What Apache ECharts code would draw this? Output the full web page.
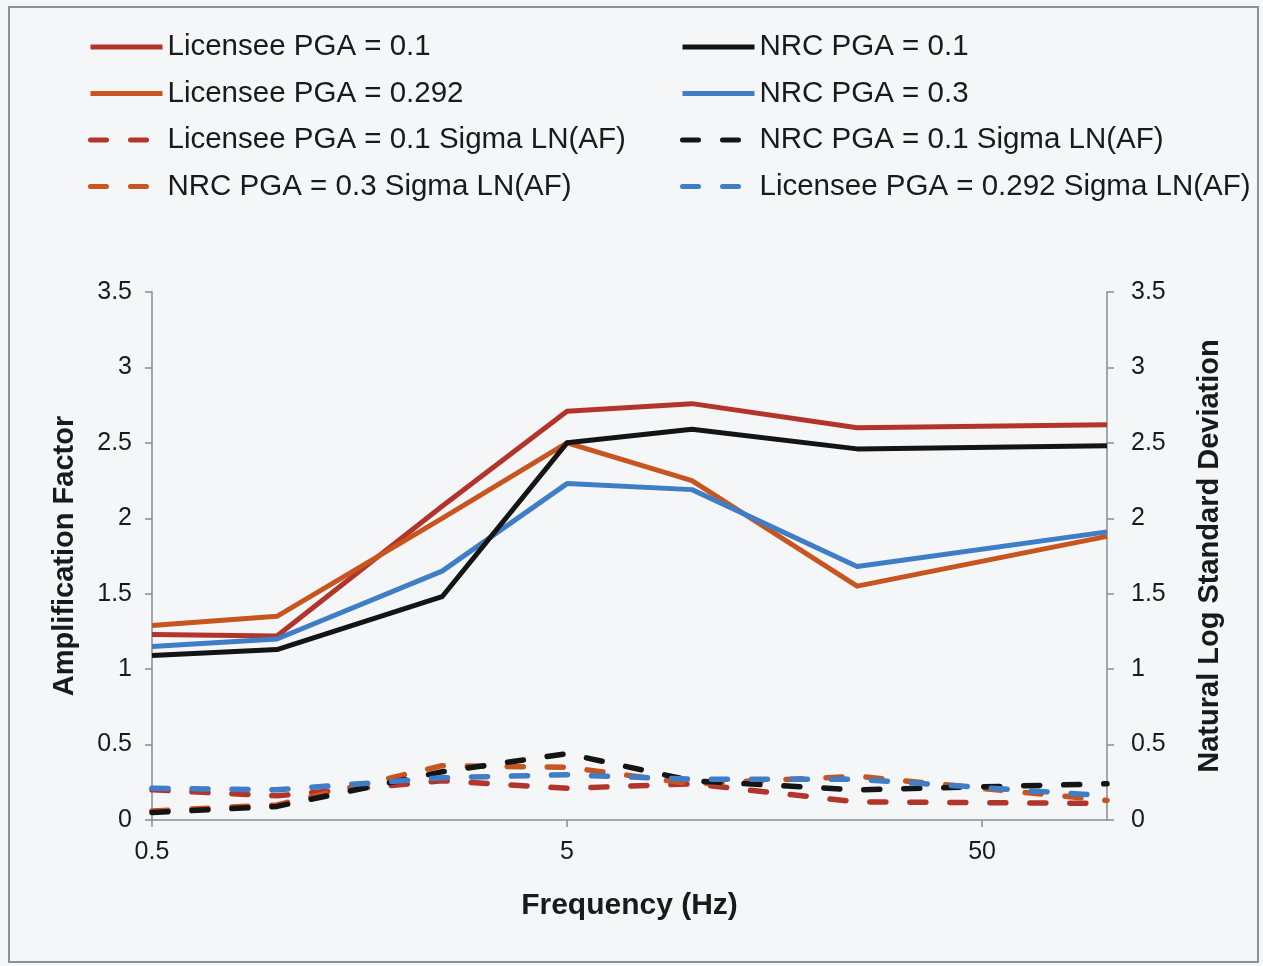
<!DOCTYPE html>
<html>
<head>
<meta charset="utf-8">
<script src="https://cdn.jsdelivr.net/npm/echarts@6/dist/echarts.min.js"></script>
<style>
  html, body { margin: 0; padding: 0; background: #f4f6f7; }
  #chart { width: 1263px; height: 966px; }
</style>
</head>
<body>
<div id="chart"></div>
<script>
// frequencies (Hz) shared by every series
var freq_hz = [0.5, 1, 2.5, 5, 10, 25, 100];

// amplification factor (left axis)
var licensee_pga_01 = [1.23, 1.22, 2.08, 2.71, 2.76, 2.60, 2.62];
var licensee_pga_0292 = [1.29, 1.35, 2.00, 2.50, 2.25, 1.55, 1.88];
var nrc_pga_01 = [1.09, 1.13, 1.48, 2.50, 2.59, 2.46, 2.48];
var nrc_pga_03 = [1.15, 1.20, 1.65, 2.23, 2.19, 1.68, 1.91];

// sigma ln(AF) (right axis)
var licensee_01_sigma = [0.20, 0.16, 0.26, 0.21, 0.24, 0.12, 0.11];
var nrc_03_sigma = [0.06, 0.10, 0.36, 0.35, 0.24, 0.29, 0.13];
var nrc_01_sigma = [0.05, 0.09, 0.32, 0.44, 0.26, 0.20, 0.24];
var licensee_0292_sigma = [0.21, 0.20, 0.28, 0.30, 0.27, 0.27, 0.16];

var y_ticks = [0, 0.5, 1, 1.5, 2, 2.5, 3, 3.5];
var x_base = 0.5;   // first labelled frequency, ticks every decade from here
var x_max_hz = 100;

var names = [
    'Licensee PGA = 0.1', 'Licensee PGA = 0.292',
    'Licensee PGA = 0.1 Sigma LN(AF)', 'NRC PGA = 0.3 Sigma LN(AF)',
    'NRC PGA = 0.1', 'NRC PGA = 0.3',
    'NRC PGA = 0.1 Sigma LN(AF)', 'Licensee PGA = 0.292 Sigma LN(AF)'
];

var c_red = '#b3342a', c_orange = '#c8541f', c_black = '#141414', c_blue = '#3f7dc6';
var font = '"Liberation Sans", Arial, Helvetica, sans-serif';

// decades above 0.5 Hz, so the value axis behaves like a log axis
function to_x(f) {
    return Math.log10(f / x_base);
}

function pairs(vals) {
    return freq_hz.map(function (f, i) { return [to_x(f), vals[i]]; });
}

function solid(name, vals, color) {
    return {
        name: name, type: 'line', data: pairs(vals), yAxisIndex: 0,
        symbol: 'none', color: color, animation: false,
        lineStyle: { width: 5, color: color, join: 'round' }
    };
}

function dashed(name, vals, color) {
    return {
        name: name, type: 'line', data: pairs(vals), yAxisIndex: 1,
        symbol: 'none', color: color, animation: false,
        lineStyle: { width: 5.5, color: color, type: [16, 24], cap: 'round' }
    };
}

var chart = echarts.init(document.getElementById('chart'));

// legend icon is just the line, the marker is hidden
var legend_common = {
    orient: 'vertical',
    top: 32,
    padding: 0,
    itemWidth: 72,
    itemHeight: 20,
    itemGap: 16.5,
    itemStyle: { opacity: 0 },
    lineStyle: { width: 5 },
    textStyle: { fontFamily: font, fontSize: 29.5, color: '#1a1a1a' }
};

var axis_label = { fontFamily: font, fontSize: 25, color: '#1a1a1a' };
var axis_name = { fontFamily: font, fontSize: 29, fontWeight: 'bold', color: '#1a1a1a' };
var axis_line = { show: true, lineStyle: { color: '#8a8d90', width: 1.5 } };
var axis_tick = { show: true, length: 7, lineStyle: { color: '#8a8d90', width: 1.5 } };

var option = {
    backgroundColor: '#f4f6f7',
    animation: false,
    graphic: [{
        type: 'rect',
        shape: { x: 9, y: 7, width: 1249, height: 955 },
        style: { fill: null, stroke: '#8e9092', lineWidth: 2 }
    }],
    legend: [
        Object.assign({ left: 88, data: names.slice(0, 4) }, legend_common),
        Object.assign({ left: 680, data: names.slice(4, 8) }, legend_common)
    ],
    grid: { left: 152, right: 156, top: 292, bottom: 146 },
    xAxis: {
        type: 'value',
        min: 0,
        max: to_x(x_max_hz),
        interval: 1,
        name: 'Frequency (Hz)',
        nameLocation: 'middle',
        nameGap: 71,
        nameTextStyle: Object.assign({}, axis_name, { fontSize: 30 }),
        axisLine: axis_line,
        axisTick: axis_tick,
        axisLabel: Object.assign({
            margin: 20,
            showMaxLabel: false,
            formatter: function (v) {
                if (Math.abs(v - Math.round(v)) > 1e-6) return '';
                return String(+(x_base * Math.pow(10, Math.round(v))).toPrecision(3));
            }
        }, axis_label),
        splitLine: { show: false }
    },
    yAxis: [{
        type: 'value',
        min: y_ticks[0],
        max: y_ticks[y_ticks.length - 1],
        interval: 0.5,
        position: 'left',
        name: 'Amplification Factor',
        nameLocation: 'middle',
        nameGap: 73,
        nameTextStyle: axis_name,
        axisLine: axis_line,
        axisTick: axis_tick,
        axisLabel: Object.assign({ margin: 20 }, axis_label),
        splitLine: { show: false }
    }, {
        type: 'value',
        min: y_ticks[0],
        max: y_ticks[y_ticks.length - 1],
        interval: 0.5,
        position: 'right',
        name: 'Natural Log Standard Deviation',
        nameLocation: 'middle',
        nameGap: 88,
        nameRotate: 90,
        nameTextStyle: axis_name,
        axisLine: axis_line,
        axisTick: axis_tick,
        axisLabel: Object.assign({ margin: 24 }, axis_label),
        splitLine: { show: false }
    }],
    series: [
        dashed(names[2], licensee_01_sigma, c_red),
        dashed(names[3], nrc_03_sigma, c_orange),
        dashed(names[6], nrc_01_sigma, c_black),
        dashed(names[7], licensee_0292_sigma, c_blue),
        solid(names[0], licensee_pga_01, c_red),
        solid(names[1], licensee_pga_0292, c_orange),
        solid(names[5], nrc_pga_03, c_blue),
        solid(names[4], nrc_pga_01, c_black)
    ]
};

chart.setOption(option);
</script>
</body>
</html>
